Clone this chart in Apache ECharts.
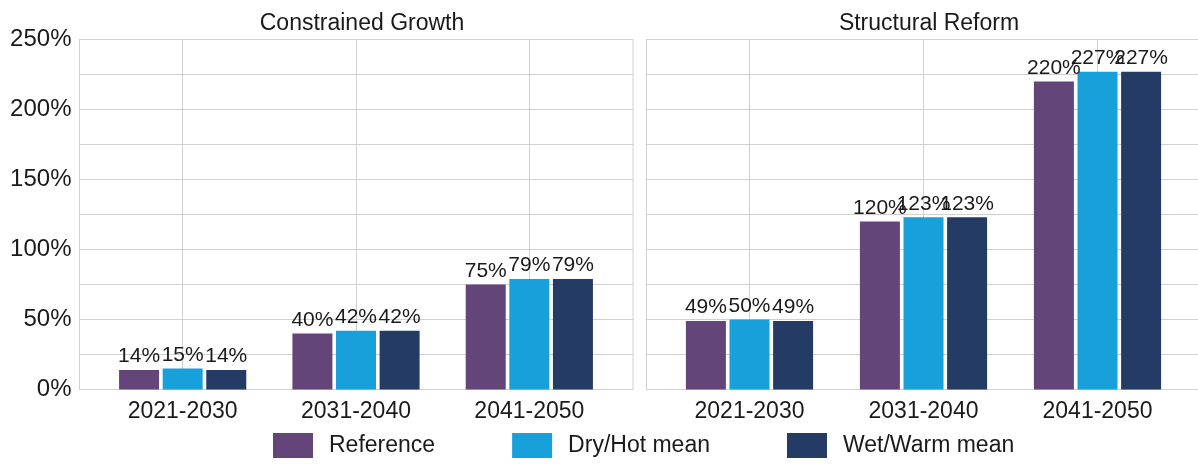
<!DOCTYPE html>
<html>
<head>
<meta charset="utf-8">
<script src="https://cdn.jsdelivr.net/npm/echarts@6/dist/echarts.min.js"></script>
<style>
html,body{margin:0;padding:0;background:#fff;overflow:hidden;}
#chart{width:1198px;height:464px;}
</style>
</head>
<body>
<div id="chart"></div>
<script>
const categories = ['2021-2030', '2031-2040', '2041-2050'];
const panelTitles = ['Constrained Growth', 'Structural Reform'];
const seriesNames = ['Reference', 'Dry/Hot mean', 'Wet/Warm mean'];
const constrainedReference = [14, 40, 75];
const constrainedDryHot = [15, 42, 79];
const constrainedWetWarm = [14, 42, 79];
const structuralReference = [49, 120, 220];
const structuralDryHot = [50, 123, 227];
const structuralWetWarm = [49, 123, 227];

const colors = ['#63457a', '#17a0da', '#243b65'];
const FONT = '"Liberation Sans", Arial, sans-serif';
const gridColor = '#d0d0d0';

const chart = echarts.init(document.getElementById('chart'), null, {renderer: 'canvas'});

function bgY(gridIndex, showLabels) {
  return {
    type: 'value', gridIndex: gridIndex, min: 0, max: 250, interval: 25, position: 'left',
    axisLine: {show: true, onZero: false, lineStyle: {color: gridColor, width: 1}}, axisTick: {show: false},
    axisLabel: {
      show: showLabels, fontFamily: FONT, fontSize: 24, color: '#1a1a1a', margin: 8,
      formatter: v => (v % 50 === 0 ? v + '%' : '')
    },
    splitLine: {show: true, lineStyle: {color: gridColor, width: 1}}
  };
}
function fgY(gridIndex) {
  return {
    type: 'value', gridIndex: gridIndex, min: 0, max: 250, interval: 25,
    axisLine: {show: false}, axisTick: {show: false}, axisLabel: {show: false},
    splitLine: {show: false}
  };
}
function bgX(gridIndex) {
  return {
    type: 'value', gridIndex: gridIndex, min: 0, max: 1, show: false
  };
}
function fgX(gridIndex) {
  return {
    type: 'category', gridIndex: gridIndex, data: categories,
    axisLine: {show: false}, axisTick: {show: false},
    axisLabel: {fontFamily: FONT, fontSize: 23, color: '#1a1a1a', margin: 11},
    splitLine: {show: true, alignWithLabel: true,
                lineStyle: {color: gridColor, width: 1}}
  };
}
function bars(name, data, idx, axisIndex) {
  return {
    type: 'bar', name: name, data: data,
    xAxisIndex: axisIndex, yAxisIndex: axisIndex,
    barWidth: 40, barGap: '9%',
    itemStyle: {color: colors[idx]},
    label: {
      show: true, position: 'top', distance: 3,
      fontFamily: FONT, fontSize: 21, color: '#1a1a1a',
      formatter: p => p.value + '%'
    },
    z: 3
  };
}

const option = {
  animation: false,
  backgroundColor: '#ffffff',
  textStyle: {fontFamily: FONT},
  title: [
    {text: panelTitles[0], left: 357, top: 7, textAlign: 'center',
     textStyle: {fontFamily: FONT, fontSize: 23, fontWeight: 'normal', color: '#1a1a1a'}},
    {text: panelTitles[1], left: 924, top: 7, textAlign: 'center',
     textStyle: {fontFamily: FONT, fontSize: 23, fontWeight: 'normal', color: '#1a1a1a'}}
  ],
  legend: {
    data: seriesNames,
    left: 273, top: 433, padding: 0,
    icon: 'rect', itemWidth: 40, itemHeight: 25, itemGap: 77,
    textStyle: {fontFamily: FONT, fontSize: 23, color: '#1a1a1a', padding: [0, 0, 0, 11]}
  },
  grid: [
    {left: 79.5, right: 565, top: 39.5, bottom: 74.5, show: true, borderColor: gridColor, borderWidth: 1, containLabel: false},
    {left: 96, width: 520, top: 39.5, bottom: 74.5, containLabel: false},
    {left: 646.5, right: -10, top: 39.5, bottom: 74.5, show: false, containLabel: false},
    {left: 662.5, width: 522, top: 39.5, bottom: 74.5, containLabel: false}
  ],
  xAxis: [bgX(0), fgX(1), bgX(2), fgX(3)],
  yAxis: [bgY(0, true), fgY(1), bgY(2, false), fgY(3)],
  series: [
    bars(seriesNames[0], constrainedReference, 0, 1),
    bars(seriesNames[1], constrainedDryHot, 1, 1),
    bars(seriesNames[2], constrainedWetWarm, 2, 1),
    bars(seriesNames[0], structuralReference, 0, 3),
    bars(seriesNames[1], structuralDryHot, 1, 3),
    bars(seriesNames[2], structuralWetWarm, 2, 3)
  ]
};
chart.setOption(option);
</script>
</body>
</html>
